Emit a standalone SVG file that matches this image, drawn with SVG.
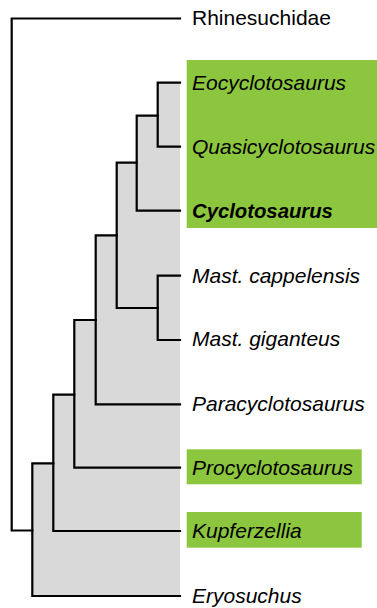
<svg xmlns="http://www.w3.org/2000/svg" width="377" height="608" viewBox="0 0 377 608">
<style>
.hl{fill:#8cc63f}
.clade{fill:#d9d9d9}
.br{fill:none;stroke:#000;stroke-width:2.2;stroke-linejoin:miter;stroke-linecap:square}
text{font-family:"Liberation Sans",Arial,sans-serif;font-size:21px;fill:#000}
.it{font-style:italic}
.b{font-weight:bold;font-size:20.3px}
</style>
<rect width="377" height="608" fill="#fff"/>
<g id="highlights">
<rect class="hl" x="186.7" y="60" width="190.3" height="168"/>
<rect class="hl" x="186.7" y="449.3" width="175" height="35"/>
<rect class="hl" x="186.7" y="512" width="175" height="35.7"/>
</g>
<polygon class="clade" points="157.7,82.7 180,82.7 180,596 32.3,596 32.3,463.3 53.3,463.3 53.3,394.7 74.3,394.7 74.3,320 95.7,320 95.7,235.3 116.7,235.3 116.7,162.7 136.7,162.7 136.7,115.7 157.7,115.7"/>
<g id="connectors">
<path class="br" d="M180,18.5 H11.7 V530.5 H32.3"/>
<path class="br" d="M180,82.7 H157.7 V146.7 H180"/>
<path class="br" d="M157.7,115.7 H136.7 V210.7 H180"/>
<path class="br" d="M136.7,162.7 H116.7 V308 H157.7"/>
<path class="br" d="M180,275.7 H157.7 V340 H180"/>
<path class="br" d="M116.7,235.3 H95.7 V404.3 H180"/>
<path class="br" d="M95.7,320 H74.3 V467.7 H180"/>
<path class="br" d="M74.3,394.7 H53.3 V531 H180"/>
<path class="br" d="M53.3,463.3 H32.3 V596 H180"/>
</g>
<g id="rhinesuchidae"><text x="192" y="25">Rhinesuchidae</text></g>
<g id="eocyclotosaurus"><text class="it" x="192" y="90">Eocyclotosaurus</text></g>
<g id="quasicyclotosaurus"><text class="it" x="192" y="154">Quasicyclotosaurus</text></g>
<g id="cyclotosaurus"><text class="it b" x="192" y="218">Cyclotosaurus</text></g>
<g id="mast-cappelensis"><text class="it" x="192" y="282.5">Mast. cappelensis</text></g>
<g id="mast-giganteus"><text class="it" x="192" y="346">Mast. giganteus</text></g>
<g id="paracyclotosaurus"><text class="it" x="192" y="411">Paracyclotosaurus</text></g>
<g id="procyclotosaurus"><text class="it" x="192" y="474.5">Procyclotosaurus</text></g>
<g id="kupferzellia"><text class="it" x="192" y="538">Kupferzellia</text></g>
<g id="eryosuchus"><text class="it" x="192" y="602.5">Eryosuchus</text></g>
</svg>
